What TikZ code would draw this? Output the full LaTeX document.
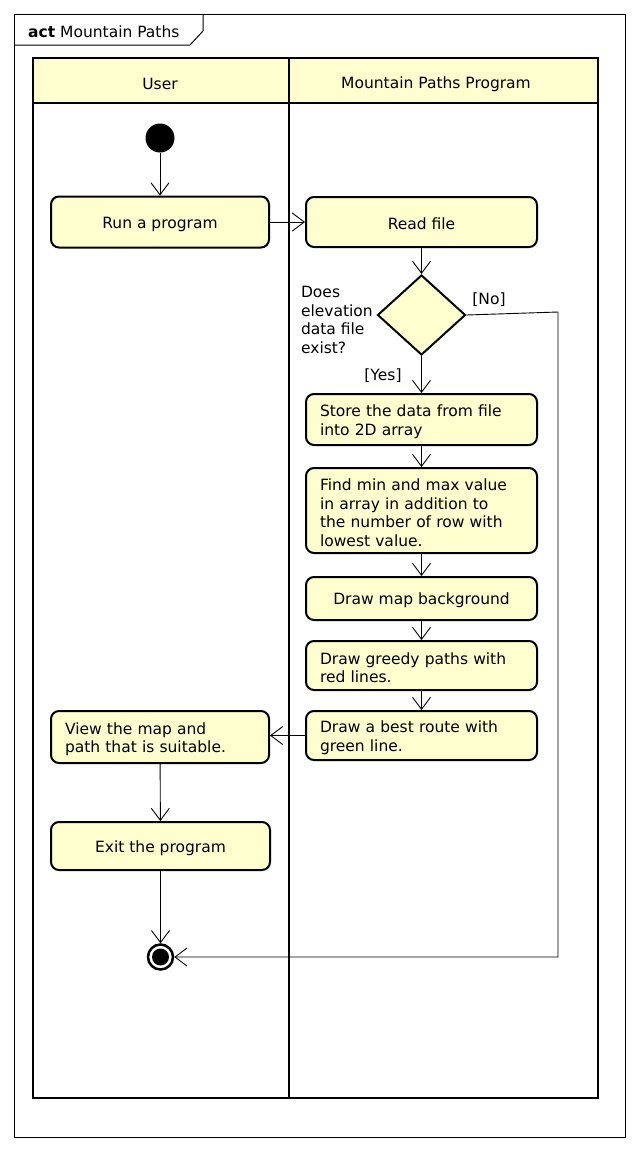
\documentclass[tikz,border=0pt]{standalone}
\usepackage{fontspec}
\setmainfont{DejaVu Sans}
\usetikzlibrary{arrows.meta,shapes.geometric,calc}
\definecolor{umlfill}{HTML}{FEFECE}

\begin{document}
\begin{tikzpicture}[x=1pt, y=-1pt,
    font=\fontsize{15.5}{18.7}\selectfont,
    txt/.style={text height=16pt},
    action/.style={txt, draw, line width=2pt, rounded corners=8pt, fill=umlfill, inner xsep=14pt, inner ysep=0pt},
    flow/.style={-{Straight Barb[length=12pt,width=18pt]}, line width=0.9pt},
    lane/.style={line width=2.4pt}]
    \useasboundingbox (0,0) rectangle (638,1152);

    \draw[line width=1pt] (14,14) rectangle (625,1137);
    \draw[line width=1pt] (14,45) -- (190,45) -- (203,31) -- (203,14);
    \node[txt, anchor=west, inner sep=0pt] (title) at (28,30) {\textbf{act} Mountain Paths};

    \fill[umlfill] (33,58) rectangle (598,103);
    \draw[lane] (33,58) rectangle (598,1098);
    \draw[lane] (33,103) -- (598,103);
    \draw[lane] (289,58) -- (289,1098);
    \node[txt] (user) at (160,82) {User};
    \node[txt] (prog) at (436,82) {Mountain Paths Program};

    \node[circle, fill, minimum size=29pt, inner sep=0pt] (start) at (160,138) {};
    \node[action, minimum width=218pt, minimum height=51pt] (run) at (160,222) {Run a program};
    \node[action, minimum width=231pt, minimum height=50pt] (read) at (421.5,222) {Read file};
    \node[diamond, draw, line width=2pt, fill=umlfill, minimum width=88pt, minimum height=80pt, inner sep=0pt] (exists) at (421.5,315) {};
    \node[align=left, anchor=east, inner sep=0pt] (question) at (373,320) {Does\\elevation\\data file\\exist?};
    \node[txt] (nolabel) at (489,298) {[No]};
    \node[txt] (yeslabel) at (383,374) {[Yes]};
    \node[action, text width=203pt, align=left, minimum height=51pt] (store) at (421.5,419.5) {Store the data from file\\into 2D array};
    \node[action, text width=203pt, align=left, minimum height=85pt] (find) at (421.5,510.5) {Find min and max value\\in array in addition to\\the number of row with\\lowest value.};
    \node[action, minimum width=231pt, minimum height=43pt] (map) at (421.5,598.5) {Draw map background};
    \node[action, text width=203pt, align=left, minimum height=49pt] (greedy) at (421.5,665.5) {Draw greedy paths with\\red lines.};
    \node[action, text width=203pt, align=left, minimum height=49pt] (best) at (421.5,735.5) {Draw a best route with\\green line.};
    \node[action, text width=190pt, align=left, minimum height=52pt] (view) at (160,737) {View the map and\\path that is suitable.};
    \node[action, minimum width=219pt, minimum height=48pt] (exit) at (160.5,846) {Exit the program};
    \node[circle, draw, line width=2.5pt, minimum size=25pt, inner sep=0pt] (stop) at (160.5,957) {};
    \fill (stop.center) circle[radius=8.5pt];
    \coordinate (nobend) at (558,312);

    \draw[flow] (start) -- (run);
    \draw[flow] (run) -- (read);
    \draw[flow] (read) -- (exists);
    \draw[flow] (exists) -- (store);
    \draw[flow] (store) -- (find);
    \draw[flow] (find) -- (map);
    \draw[flow] (map) -- (greedy);
    \draw[flow] (greedy) -- (best);
    \draw[flow] (best.west) -- (best.west -| view.east);
    \draw[flow] (view) -- (exit);
    \draw[flow] (exit) -- (stop);
    \draw[flow] (exists.east) -- (nobend) |- (stop.east);
\end{tikzpicture}
\end{document}
